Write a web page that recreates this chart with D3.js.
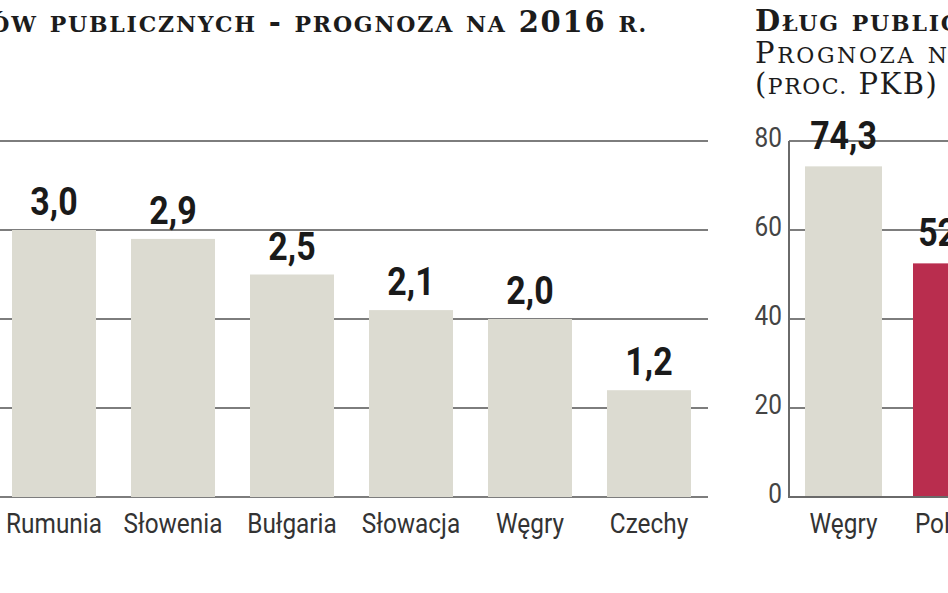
<!DOCTYPE html>
<html><head><meta charset="utf-8">
<script src="https://cdn.jsdelivr.net/npm/d3@7"></script>
<style>
html,body{margin:0;padding:0;background:#fff;overflow:hidden;}
svg{display:block;}
.ttl{font-family:'DejaVu Serif','Liberation Serif',serif;fill:#1c1c1c;}
.sans{font-family:'Roboto','Liberation Sans',sans-serif;}
</style></head>
<body>
<script>
// ---- data ----
const deficitCategories = ["Rumunia","Słowenia","Bułgaria","Słowacja","Węgry","Czechy"];
const deficitValues = [3.0, 2.9, 2.5, 2.1, 2.0, 1.2];
const deficitTicks = [0, 1, 2, 3, 4];

const debtCategories = ["Węgry","Polska"];
const debtValues = [74.3, 52.5];
const debtTicks = [0, 20, 40, 60, 80];

const leftTitle = "Deficyt sektora finansów publicznych - prognoza na 2016 r.";
const rightTitleLines = ["Dług publiczny.", "Prognoza na 2016 r.", "(proc. PKB)"];

const W = 948, H = 593;
const fmt = v => v.toFixed(1).replace(".", ",");
const SX = 0.87; // condensed look

const svg = d3.select("body").append("svg").attr("width", W).attr("height", H);
svg.append("rect").attr("width", W).attr("height", H).attr("fill", "#fff");

// small caps helper: lowercase letters -> uppercase at small size
function smallCaps(textSel, str, big, small) {
  const runs = [];
  for (const ch of str) {
    const isLower = ch !== ch.toUpperCase();
    const isDot = ch === ".";
    const sz = (isLower || (isDot && runs.length && runs[runs.length-1].sz === small)) ? small : big;
    const c = isLower ? ch.toUpperCase() : ch;
    if (runs.length && runs[runs.length - 1].sz === sz) runs[runs.length - 1].t += c;
    else runs.push({ t: c, sz: sz });
  }
  runs.forEach(r => textSel.append("tspan").attr("font-size", r.sz).text(r.t));
}

// condensed text helper
function condText(g, x, y, anchor, size, weight, fill, txt) {
  return g.append("text").attr("class", "sans")
    .attr("transform", `translate(${x},${y}) scale(${SX},1)`)
    .attr("text-anchor", anchor).attr("font-size", size)
    .attr("font-weight", weight).attr("fill", fill).text(txt);
}

// ---- left chart ----
const yL = d3.scaleLinear().domain([0, 4]).range([497, 141]);
const xL = d3.scaleBand().domain(deficitCategories).range([12, 691]).paddingInner(0.294).paddingOuter(0);

const gL = svg.append("g");
gL.selectAll("line.grid").data(deficitTicks).join("line")
  .attr("x1", -10).attr("x2", 708)
  .attr("y1", d => yL(d)).attr("y2", d => yL(d))
  .attr("stroke", "#7d7d7d").attr("stroke-width", 2);
gL.selectAll("rect").data(deficitValues).join("rect")
  .attr("x", (d, i) => xL(deficitCategories[i]))
  .attr("width", xL.bandwidth())
  .attr("y", d => yL(d))
  .attr("height", d => yL(0) - yL(d))
  .attr("fill", "#dcdbd1");
deficitValues.forEach((v, i) => {
  condText(gL, xL(deficitCategories[i]) + xL.bandwidth() / 2, yL(v) - 15, "middle", 39, "bold", "#1a1a1a", fmt(v));
});
deficitCategories.forEach(c => {
  condText(gL, xL(c) + xL.bandwidth() / 2, 533, "middle", 28, "normal", "#333", c);
});

const lt = svg.append("text").attr("class", "ttl")
  .attr("x", 648).attr("y", 32).attr("text-anchor", "end")
  .attr("font-weight", "bold").attr("letter-spacing", 1.8);
smallCaps(lt, leftTitle, 29, 22);

// ---- right chart ----
const yR = d3.scaleLinear().domain([0, 80]).range([497, 141]);
const xR = d3.scaleBand().domain(debtCategories).range([805, 990]).paddingInner(0.287).paddingOuter(0);
const colorsR = ["#dcdbd1", "#b92d4e"];

const gR = svg.append("g");
gR.selectAll("line.grid").data(debtTicks).join("line")
  .attr("x1", 789).attr("x2", W + 10)
  .attr("y1", d => yR(d)).attr("y2", d => yR(d))
  .attr("stroke", "#7d7d7d").attr("stroke-width", 2);
gR.selectAll("rect").data(debtValues).join("rect")
  .attr("x", (d, i) => xR(debtCategories[i]))
  .attr("width", xR.bandwidth())
  .attr("y", d => yR(d))
  .attr("height", d => yR(0) - yR(d))
  .attr("fill", (d, i) => colorsR[i]);
gR.append("line").attr("x1", 789).attr("x2", 789).attr("y1", yR(80)).attr("y2", yR(0) + 1)
  .attr("stroke", "#6a6a6a").attr("stroke-width", 2);
gR.append("line").attr("x1", 788).attr("x2", W + 10).attr("y1", yR(0)).attr("y2", yR(0))
  .attr("stroke", "#6a6a6a").attr("stroke-width", 2);
debtTicks.forEach(t => {
  condText(gR, 782, yR(t) + 6, "end", 28, "normal", "#444", String(t));
});
debtValues.forEach((v, i) => {
  condText(gR, xR(debtCategories[i]) + xR.bandwidth() / 2, yR(v) - 17, "middle", 39, "bold", "#1a1a1a", fmt(v));
});
debtCategories.forEach(c => {
  condText(gR, xR(c) + xR.bandwidth() / 2, 533, "middle", 28, "normal", "#333", c);
});

const rtSpacing = [1.8, 2.6, 1.5];
[31, 63, 94].forEach((y, i) => {
  const t = svg.append("text").attr("class", "ttl")
    .attr("x", 755).attr("y", y)
    .attr("font-weight", i === 0 ? "bold" : "normal")
    .attr("letter-spacing", rtSpacing[i]);
  smallCaps(t, rightTitleLines[i], 29, 22);
});
</script>
</body></html>
